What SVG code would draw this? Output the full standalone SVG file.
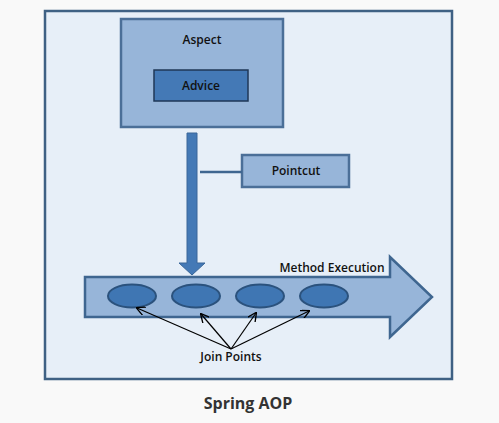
<svg xmlns="http://www.w3.org/2000/svg" width="499" height="423" viewBox="0 0 499 423">
<defs>
<style>
.lbl{font-family:"Open Sans","Liberation Sans",sans-serif;font-size:12px;font-weight:600;fill:#111;text-anchor:middle}
.jp{fill:#3f76b3;stroke:#2b527d;stroke-width:2}
.ptr{stroke:#000;stroke-width:1.2;fill:none;marker-end:url(#ah)}
</style>
<marker id="ah" viewBox="0 0 10 10" refX="9" refY="5" markerWidth="9" markerHeight="9" markerUnits="userSpaceOnUse" orient="auto">
<path d="M0,0 L10,5 L0,10" fill="none" stroke="#000" stroke-width="1.5"/>
</marker>
</defs>
<rect width="499" height="423" fill="#f9f9f9"/>
<g id="frame">
<rect x="45" y="11" width="407" height="368" fill="#e7eff8" stroke="#3f6184" stroke-width="2.5"/>
</g>
<g id="aspect">
<rect x="121" y="19" width="162" height="108" fill="#97b5d9" stroke="#4b6f98" stroke-width="2.5"/>
<text class="lbl" x="202" y="44">Aspect</text>
</g>
<g id="advice">
<rect x="154" y="70" width="94" height="31" fill="#4479b6" stroke="#1f3757" stroke-width="1.5"/>
<text class="lbl" x="201" y="90">Advice</text>
</g>
<g id="pointcut">
<rect x="242" y="155" width="107" height="32" fill="#97b5d9" stroke="#4b6f98" stroke-width="2.5"/>
<text class="lbl" x="296" y="175">Pointcut</text>
</g>
<g id="method-execution">
<path d="M85,277 L390,277 L390,257 L432,297 L390,337 L390,317 L85,317 Z" fill="#97b5d9" stroke="#3f6690" stroke-width="2.5"/>
<text class="lbl" x="332" y="272">Method Execution</text>
</g>
<g id="join-points">
<ellipse class="jp" cx="132" cy="296" rx="24" ry="11.5"/>
<ellipse class="jp" cx="196" cy="296" rx="24" ry="11.5"/>
<ellipse class="jp" cx="260" cy="296" rx="24" ry="11.5"/>
<ellipse class="jp" cx="324" cy="296" rx="24" ry="11.5"/>
<text class="lbl" x="231" y="361">Join Points</text>
</g>
<g id="connectors">
<path d="M187,133 L197,133 L197,263 L205,263 L192,275 L179,263 L187,263 Z" fill="#4479b6" stroke="#3a6799" stroke-width="1"/>
<line x1="200" y1="172" x2="242" y2="172" stroke="#3f6690" stroke-width="2.5"/>
<line class="ptr" x1="231" y1="349" x2="137" y2="308"/>
<line class="ptr" x1="231" y1="349" x2="201" y2="314"/>
<line class="ptr" x1="231" y1="349" x2="256" y2="313"/>
<line class="ptr" x1="231" y1="349" x2="309" y2="311"/>
</g>
<text x="248" y="409" font-family="'Open Sans','Liberation Sans',sans-serif" font-size="16" font-weight="bold" fill="#333" text-anchor="middle">Spring AOP</text>
</svg>
